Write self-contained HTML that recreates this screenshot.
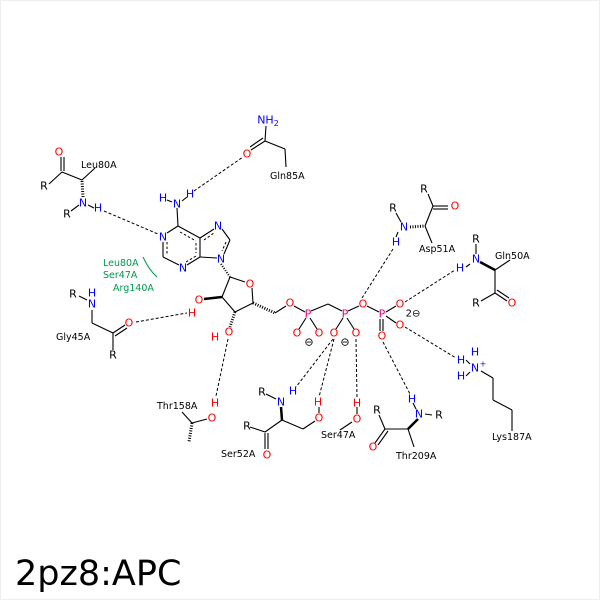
<!DOCTYPE html>
<html><head><meta charset="utf-8"><style>
html,body{margin:0;padding:0;background:#fff}
svg{display:block}
text{font-family:"DejaVu Sans","Liberation Sans",sans-serif}
.a{font-size:11px;text-anchor:middle;dominant-baseline:central}
.l{font-size:9.5px;fill:#000}
.b{stroke:#000;stroke-width:1.1;fill:none}
.h{stroke:#000;stroke-width:1;fill:none;stroke-dasharray:3,2}
.ar{stroke:#000;stroke-width:1;fill:none;stroke-dasharray:2.5,2}
.N{fill:#0000ff}.O{fill:#ff0000}.P{fill:#e0007a}.K{fill:#000}.G{fill:#00994c;font-size:9.5px}
</style></head><body>
<svg width="600" height="600" viewBox="0 0 600 600" xmlns="http://www.w3.org/2000/svg">
<rect x="0.5" y="0.5" width="599" height="599" fill="#fff" stroke="#eee"/>
<!-- H bonds -->
<g class="h">
<line x1="104" y1="211" x2="158" y2="234"/>
<line x1="194" y1="191" x2="243" y2="157"/>
<line x1="136" y1="322" x2="187" y2="313"/>
<line x1="228" y1="339" x2="216" y2="396"/>
<line x1="362" y1="298" x2="393" y2="249"/>
<line x1="405" y1="302" x2="455" y2="270"/>
<line x1="405" y1="327" x2="456" y2="358"/>
<line x1="333" y1="339" x2="296" y2="387"/>
<line x1="334" y1="339" x2="319" y2="397"/>
<line x1="356" y1="339" x2="357" y2="398"/>
<line x1="383" y1="342" x2="410" y2="394"/>
</g>
<!-- aromatic inner -->
<g class="ar">
<line x1="180" y1="232" x2="196" y2="241"/>
<line x1="167" y1="242" x2="167" y2="254"/>
<line x1="186" y1="262" x2="196" y2="256"/>
<line x1="196" y1="243" x2="196" y2="253"/>
<line x1="204" y1="240" x2="214" y2="233"/>
<line x1="226" y1="242" x2="222" y2="251"/>
</g>
<!-- bonds -->
<g class="b">
<!-- Leu80A -->
<line x1="61" y1="171" x2="61" y2="157"/><line x1="64" y1="171" x2="64" y2="157"/>
<line x1="49" y1="184" x2="62" y2="172"/><line x1="62" y1="172" x2="82" y2="180"/>
<line x1="82" y1="180" x2="95" y2="168"/>
<line x1="82" y1="181" x2="83" y2="197" stroke-dasharray="1,1.5" stroke-width="3"/>
<line x1="71" y1="211" x2="79" y2="205"/><line x1="88" y1="205" x2="94" y2="208"/>
<!-- adenine -->
<line x1="177" y1="208" x2="178" y2="226"/>
<line x1="167" y1="200" x2="172" y2="202"/><line x1="182" y1="201" x2="187" y2="197"/>
<line x1="178" y1="226" x2="200" y2="238"/><line x1="178" y1="226" x2="167" y2="233"/>
<line x1="163" y1="242" x2="163" y2="257"/><line x1="163" y1="257" x2="179" y2="265"/>
<line x1="187" y1="265" x2="200" y2="257"/><line x1="200" y1="257" x2="200" y2="238"/>
<line x1="200" y1="238" x2="214" y2="229"/><line x1="222" y1="229" x2="230" y2="240"/>
<line x1="230" y1="240" x2="224" y2="254"/><line x1="217" y1="258" x2="200" y2="257"/>
<line x1="221" y1="264" x2="230" y2="277" stroke-dasharray="1,1.5" stroke-width="2"/>
<!-- ribose -->
<line x1="230" y1="277" x2="245" y2="282"/><line x1="252" y1="288" x2="253" y2="303"/>
<line x1="253" y1="303" x2="235" y2="312"/><line x1="235" y1="312" x2="222" y2="297"/>
<line x1="222" y1="297" x2="230" y2="277"/>
<line x1="222" y1="297" x2="204" y2="299" stroke-width="2.5"/>
<line x1="235" y1="312" x2="230" y2="327" stroke-dasharray="1,1.5" stroke-width="3"/>
<line x1="253" y1="303" x2="275" y2="313" stroke-dasharray="1,1.5" stroke-width="3"/>
<line x1="275" y1="313" x2="286" y2="306"/><line x1="294" y1="306" x2="305" y2="312"/>
<line x1="311" y1="311" x2="328" y2="304"/><line x1="328" y1="304" x2="342" y2="311"/>
<line x1="348" y1="311" x2="359" y2="306"/><line x1="367" y1="306" x2="379" y2="312"/>
<line x1="306" y1="318" x2="299" y2="329"/><line x1="310" y1="318" x2="317" y2="329"/>
<line x1="343" y1="318" x2="336" y2="329"/><line x1="347" y1="318" x2="354" y2="329"/>
<line x1="380" y1="319" x2="380" y2="331"/><line x1="383" y1="319" x2="383" y2="331"/>
<line x1="386" y1="312" x2="396" y2="306"/><line x1="386" y1="316" x2="396" y2="323"/>
<!-- Gly45A -->
<line x1="79" y1="296" x2="87" y2="300"/><line x1="92" y1="310" x2="92" y2="323"/>
<line x1="92" y1="323" x2="113" y2="333"/><line x1="113" y1="333" x2="125" y2="325"/>
<line x1="115" y1="336" x2="127" y2="328"/><line x1="113" y1="333" x2="113" y2="350"/>
<!-- Gln85A -->
<line x1="266" y1="126" x2="265" y2="141"/><line x1="265" y1="141" x2="251" y2="150"/>
<line x1="263" y1="138" x2="250" y2="147"/><line x1="265" y1="141" x2="285" y2="149"/>
<line x1="285" y1="149" x2="286" y2="167"/>
<!-- Asp51A -->
<line x1="428" y1="194" x2="433" y2="206"/><line x1="433" y1="206" x2="448" y2="206"/>
<line x1="433" y1="209" x2="448" y2="209"/><line x1="433" y1="206" x2="425" y2="226"/>
<line x1="425" y1="226" x2="432" y2="243"/>
<line x1="410" y1="227" x2="425" y2="226" stroke-dasharray="1,1.5" stroke-width="3"/>
<line x1="396" y1="213" x2="401" y2="222"/><line x1="398" y1="232" x2="396" y2="237"/>
<!-- Gln50A -->
<line x1="476" y1="244" x2="476" y2="254"/><line x1="480" y1="262" x2="495" y2="270" stroke-width="2.5"/>
<line x1="466" y1="267" x2="470" y2="264"/>
<line x1="495" y1="270" x2="510" y2="260"/><line x1="495" y1="270" x2="495" y2="293"/>
<line x1="495" y1="293" x2="481" y2="301"/><line x1="495" y1="293" x2="507" y2="301"/>
<line x1="497" y1="290" x2="509" y2="298"/>
<!-- Lys187A -->
<line x1="481" y1="371" x2="493" y2="378"/><line x1="493" y1="378" x2="493" y2="400"/>
<line x1="493" y1="400" x2="512" y2="410"/><line x1="512" y1="410" x2="512" y2="431"/>
<line x1="466" y1="360" x2="470" y2="364"/><line x1="466" y1="376" x2="470" y2="372"/>
<!-- Thr158A -->
<line x1="192" y1="423" x2="207" y2="419"/><line x1="192" y1="423" x2="182" y2="412"/>
<line x1="192" y1="423" x2="189" y2="442" stroke-dasharray="1,1.5" stroke-width="3"/>
<!-- Ser52A -->
<line x1="266" y1="394" x2="276" y2="399"/>
<line x1="281" y1="407" x2="282" y2="420" stroke-width="2.5"/>
<line x1="282" y1="420" x2="265" y2="432"/><line x1="265" y1="432" x2="250" y2="427"/>
<line x1="265" y1="433" x2="265" y2="449"/><line x1="268" y1="433" x2="268" y2="449"/>
<line x1="282" y1="420" x2="303" y2="429"/><line x1="303" y1="429" x2="315" y2="421"/>
<line x1="319" y1="407" x2="319" y2="413"/>
<!-- Ser47A -->
<line x1="352" y1="422" x2="340" y2="430"/><line x1="357" y1="407" x2="357" y2="414"/>
<!-- Thr209A -->
<line x1="418" y1="419" x2="408" y2="429" stroke-width="2.5"/>
<line x1="425" y1="414" x2="432" y2="415"/><line x1="413" y1="403" x2="416" y2="409"/>
<line x1="408" y1="429" x2="385" y2="429"/><line x1="385" y1="429" x2="379" y2="415"/>
<line x1="385" y1="429" x2="375" y2="443"/><line x1="388" y1="431" x2="378" y2="445"/>
<line x1="408" y1="429" x2="414" y2="447"/>
</g>
<path d="M143 257 Q149 270 157 277" stroke="#00994c" stroke-width="1" fill="none"/>
<!-- atoms -->
<g class="a">
<text x="59" y="152" class="O">O</text><text x="44" y="186" class="K">R</text>
<text x="83" y="203" class="N">N</text><text x="98" y="208" class="N">H</text><text x="67" y="214" class="K">R</text>
<text x="163" y="198" class="N">H</text><text x="177" y="204" class="N">N</text><text x="190" y="194" class="N">H</text>
<text x="163" y="237" class="N">N</text><text x="183" y="268" class="N">N</text>
<text x="218" y="226" class="N">N</text><text x="221" y="259" class="N">N</text>
<text x="250" y="284" class="O">O</text><text x="199" y="300" class="O">O</text><text x="192" y="313" class="O">H</text>
<text x="229" y="332" class="O">O</text><text x="215" y="337" class="O">H</text>
<text x="290" y="303" class="O">O</text><text x="308" y="314" class="P">P</text>
<text x="297" y="333" class="O">O</text><text x="319" y="333" class="O">O</text>
<text x="345" y="314" class="P">P</text><text x="334" y="333" class="O">O</text><text x="356" y="333" class="O">O</text>
<text x="363" y="304" class="O">O</text><text x="382" y="314" class="P">P</text>
<text x="400" y="304" class="O">O</text><text x="400" y="325" class="O">O</text><text x="382" y="336" class="O">O</text>
<text x="309" y="342" class="K">⊖</text><text x="345" y="342" class="K">⊖</text>
<text x="413" y="314" class="K" style="font-size:10px">2⊖</text>
<text x="73" y="294" class="K">R</text><text x="92" y="293" class="N">H</text><text x="92" y="304" class="N">N</text>
<text x="129" y="323" class="O">O</text><text x="113" y="355" class="K">R</text>
<text x="268" y="120" class="N">NH<tspan dy="3" style="font-size:8px">2</tspan></text>
<text x="247" y="154" class="O">O</text>
<text x="424" y="189" class="K">R</text><text x="455" y="206" class="O">O</text>
<text x="393" y="208" class="K">R</text><text x="404" y="227" class="N">N</text><text x="396" y="242" class="N">H</text>
<text x="476" y="239" class="K">R</text><text x="476" y="259" class="N">N</text><text x="460" y="268" class="N">H</text>
<text x="512" y="303" class="O">O</text><text x="476" y="303" class="K">R</text>
<text x="475" y="352" class="N">H</text><text x="461" y="360" class="N">H</text><text x="475" y="368" class="N">N</text><text x="483" y="364" class="N" style="font-size:8px">+</text><text x="461" y="376" class="N">H</text>
<text x="215" y="403" class="O">H</text><text x="212" y="418" class="O">O</text>
<text x="262" y="392" class="K">R</text><text x="281" y="402" class="N">N</text><text x="293" y="391" class="N">H</text>
<text x="247" y="426" class="K">R</text><text x="267" y="455" class="O">O</text>
<text x="319" y="418" class="O">O</text><text x="318" y="402" class="O">H</text>
<text x="357" y="403" class="O">H</text><text x="357" y="419" class="O">O</text>
<text x="412" y="399" class="N">H</text><text x="419" y="414" class="N">N</text><text x="439" y="415" class="K">R</text>
<text x="377" y="410" class="K">R</text><text x="373" y="447" class="O">O</text>
</g>
<g class="l">
<text x="81" y="168">Leu80A</text>
<text x="270" y="179">Gln85A</text>
<text x="419" y="252">Asp51A</text>
<text x="495" y="259">Gln50A</text>
<text x="56" y="340">Gly45A</text>
<text x="157" y="409">Thr158A</text>
<text x="221" y="457">Ser52A</text>
<text x="321" y="438">Ser47A</text>
<text x="396" y="459">Thr209A</text>
<text x="492" y="440">Lys187A</text>
</g>
<text x="103" y="266" class="G">Leu80A</text>
<text x="103" y="278" class="G">Ser47A</text>
<text x="113" y="291" class="G">Arg140A</text>
<text x="15" y="585" style="font-size:35px">2pz8:APC</text>
</svg>
</body></html>
